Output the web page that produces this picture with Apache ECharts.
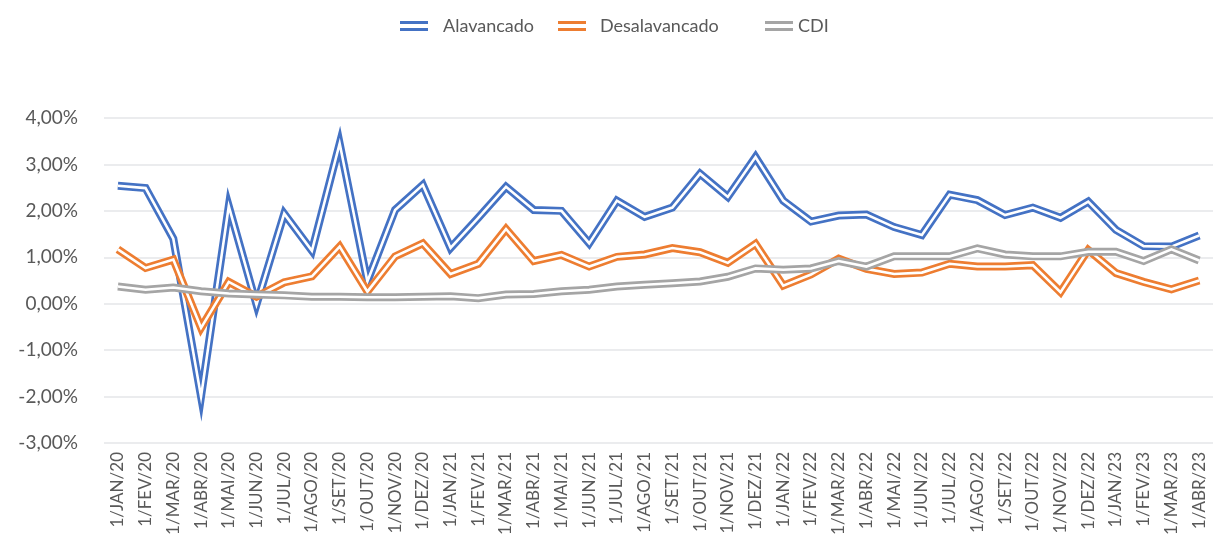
<!DOCTYPE html>
<html><head><meta charset="utf-8">
<script src="https://cdn.jsdelivr.net/npm/echarts@6/dist/echarts.min.js"></script>
<style>html,body{margin:0;padding:0;background:#fff}#c{width:1213px;height:549px}</style>
</head><body><div id="c"></div>
<script>
const categories = [
  '1/JAN/20','1/FEV/20','1/MAR/20','1/ABR/20','1/MAI/20','1/JUN/20','1/JUL/20','1/AGO/20','1/SET/20','1/OUT/20','1/NOV/20','1/DEZ/20',
  '1/JAN/21','1/FEV/21','1/MAR/21','1/ABR/21','1/MAI/21','1/JUN/21','1/JUL/21','1/AGO/21','1/SET/21','1/OUT/21','1/NOV/21','1/DEZ/21',
  '1/JAN/22','1/FEV/22','1/MAR/22','1/ABR/22','1/MAI/22','1/JUN/22','1/JUL/22','1/AGO/22','1/SET/22','1/OUT/22','1/NOV/22','1/DEZ/22',
  '1/JAN/23','1/FEV/23','1/MAR/23','1/ABR/23'
];
const alavancado = [2.54, 2.49, 1.4, -2.0, 2.1, -0.02, 1.94, 1.14, 3.45, 0.48, 2.02, 2.56,
  1.2, 1.85, 2.52, 2.02, 2.0, 1.3, 2.22, 1.87, 2.07, 2.8, 2.3, 3.16,
  2.22, 1.77, 1.9, 1.92, 1.65, 1.48, 2.35, 2.23, 1.91, 2.07, 1.85, 2.2,
  1.59, 1.24, 1.23, 1.47];
const desalavancado = [1.17, 0.77, 0.95, -0.52, 0.47, 0.15, 0.46, 0.59, 1.23, 0.26, 1.02, 1.3,
  0.64, 0.86, 1.61, 0.92, 1.05, 0.8, 1.01, 1.06, 1.2, 1.11, 0.88, 1.29,
  0.39, 0.63, 0.97, 0.75, 0.64, 0.67, 0.86, 0.8, 0.8, 0.83, 0.25, 1.16,
  0.66, 0.47, 0.31, 0.5];
const cdi = [0.37, 0.3, 0.35, 0.27, 0.22, 0.2, 0.18, 0.15, 0.15, 0.14, 0.14, 0.15,
  0.16, 0.12, 0.2, 0.21, 0.27, 0.3, 0.37, 0.41, 0.44, 0.48, 0.58, 0.76,
  0.73, 0.76, 0.92, 0.8, 1.02, 1.02, 1.02, 1.19, 1.06, 1.02, 1.02, 1.12,
  1.12, 0.92, 1.17, 0.93];
const seriesNames = ['Alavancado', 'Desalavancado', 'CDI'];
const seriesColors = ['#4472C4', '#ED7D31', '#A5A5A5'];
const yMin = -3, yMax = 4, yStep = 1;

const chart = echarts.init(document.getElementById('c'), null, {renderer: 'canvas'});
const values = [alavancado, desalavancado, cdi];
const series = [];
values.forEach((d, i) => {
  series.push({
    name: seriesNames[i], type: 'line', data: d, symbol: 'none',
    xAxisIndex: 0, yAxisIndex: 0, color: seriesColors[i],
    lineStyle: {width: 8, color: seriesColors[i], join: 'miter', miterLimit: 12},
    animation: false, silent: true
  });
  series.push({
    name: seriesNames[i] + ' ', type: 'line', data: d, symbol: 'none',
    xAxisIndex: 0, yAxisIndex: 0, color: '#ffffff',
    lineStyle: {width: 2.6, color: '#ffffff', join: 'miter', miterLimit: 12},
    animation: false, silent: true
  });
});
const icon = 'path://M0,0H28V3H0Z M0,7H28V10H0Z';
function legendItem(name, left, padLeft) {
  return {
    left: left, top: 12, itemWidth: 28, itemHeight: 10, selectedMode: false, icon: icon,
    textStyle: {fontFamily: 'Lato', fontSize: 18, color: '#595959', padding: [0, 0, 0, padLeft]},
    data: [name]
  };
}
chart.setOption({
  backgroundColor: '#ffffff',
  textStyle: {fontFamily: 'Lato', color: '#595959'},
  legend: [
    legendItem('Alavancado', 395, 10),
    legendItem('Desalavancado', 553, 9),
    legendItem('CDI', 760, 0)
  ],
  grid: [
    {left: 104, right: -15, top: 118, bottom: 106},
    {left: 104, right: -3, top: 118, bottom: 106}
  ],
  xAxis: [
    {type: 'category', gridIndex: 0, data: categories, boundaryGap: true,
     axisLine: {show: false}, axisTick: {show: false}, axisLabel: {show: false}},
    {type: 'category', gridIndex: 1, data: categories, boundaryGap: true,
     axisLine: {show: false}, axisTick: {show: false},
     axisLabel: {rotate: 90, interval: 0, margin: 9, fontSize: 17, fontFamily: 'Lato', color: '#595959'}}
  ],
  yAxis: [
    {type: 'value', gridIndex: 0, min: yMin, max: yMax, interval: yStep,
     axisLine: {show: false}, axisTick: {show: false},
     splitLine: {lineStyle: {color: '#e4e6e8', width: 1.5}},
     axisLabel: {margin: 26, fontSize: 19, fontFamily: 'Lato', color: '#595959',
       formatter: v => v.toFixed(2).replace('.', ',') + '%'}},
    {type: 'value', gridIndex: 1, min: yMin, max: yMax, interval: yStep, show: false}
  ],
  series: series
});
</script></body></html>
